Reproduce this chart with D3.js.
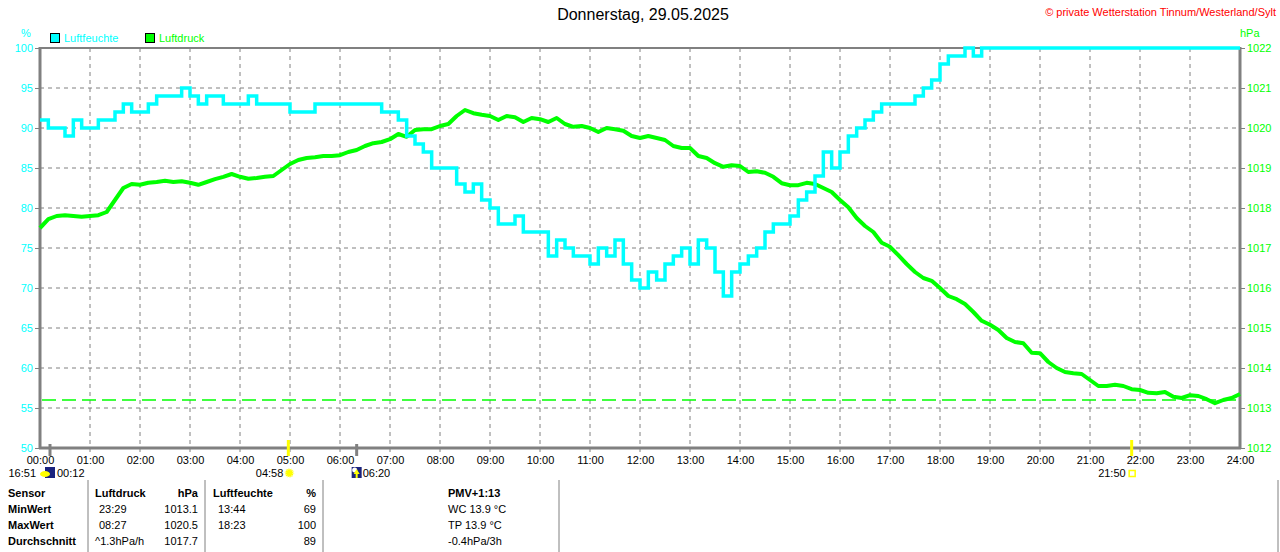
<!DOCTYPE html>
<html>
<head>
<meta charset="utf-8">
<script src="https://cdn.jsdelivr.net/npm/d3@7"></script>
<style>
  body { margin: 0; background: #fff; }
  svg { display: block; font-family: "Liberation Sans", Arial, sans-serif; }
</style>
</head>
<body>
<div id="chart"></div>
<script>
// 10-minute samples from 00:00 to 24:00
const stepMinutes = 10;

const humidity = [
  91, 90, 90, 89, 91, 90, 90, 91, 91, 92, 93, 92,
  92, 93, 94, 94, 94, 95, 94, 93, 94, 94, 93, 93,
  93, 94, 93, 93, 93, 93, 92, 92, 92, 93, 93, 93,
  93, 93, 93, 93, 93, 92, 92, 91, 89, 88, 87, 85,
  85, 85, 83, 82, 83, 81, 80, 78, 78, 79, 77, 77,
  77, 74, 76, 75, 74, 74, 73, 75, 74, 76, 73, 71,
  70, 72, 71, 73, 74, 75, 73, 76, 75, 72, 69, 72,
  73, 74, 75, 77, 78, 78, 79, 81, 82, 84, 87, 85,
  87, 89, 90, 91, 92, 93, 93, 93, 93, 94, 95, 96,
  98, 99, 99, 100, 99, 100, 100, 100, 100, 100, 100, 100,
  100, 100, 100, 100, 100, 100, 100, 100, 100, 100, 100, 100,
  100, 100, 100, 100, 100, 100, 100, 100, 100, 100, 100, 100,
  100
];

const pressure = [
  1017.5, 1017.72, 1017.8, 1017.82, 1017.8, 1017.78, 1017.8, 1017.82, 1017.9, 1018.2, 1018.5, 1018.6,
  1018.58, 1018.63, 1018.65, 1018.68, 1018.65, 1018.67, 1018.63, 1018.58, 1018.65, 1018.72, 1018.78, 1018.85,
  1018.78, 1018.73, 1018.75, 1018.78, 1018.8, 1018.95, 1019.1, 1019.2, 1019.25, 1019.27, 1019.3, 1019.3,
  1019.32, 1019.4, 1019.45, 1019.55, 1019.62, 1019.65, 1019.72, 1019.85, 1019.78, 1019.95, 1019.97, 1019.97,
  1020.05, 1020.1, 1020.3, 1020.45, 1020.37, 1020.33, 1020.3, 1020.2, 1020.3, 1020.27, 1020.15, 1020.25,
  1020.22, 1020.15, 1020.25, 1020.1, 1020.03, 1020.05, 1020.0, 1019.9, 1020.0, 1019.97, 1019.93, 1019.8,
  1019.75, 1019.8, 1019.75, 1019.7, 1019.55, 1019.5, 1019.5, 1019.3, 1019.25, 1019.12, 1019.03, 1019.07,
  1019.05, 1018.9, 1018.92, 1018.88, 1018.78, 1018.62, 1018.57, 1018.57, 1018.63, 1018.6, 1018.5, 1018.4,
  1018.2, 1018.02, 1017.75, 1017.55, 1017.4, 1017.13, 1017.03, 1016.82, 1016.6, 1016.4, 1016.25, 1016.18,
  1016.0, 1015.8, 1015.72, 1015.6, 1015.4, 1015.18, 1015.08, 1014.95, 1014.75, 1014.65, 1014.62, 1014.38,
  1014.37, 1014.15, 1014.0, 1013.9, 1013.87, 1013.85, 1013.7, 1013.55, 1013.55, 1013.58, 1013.55, 1013.47,
  1013.45, 1013.38, 1013.37, 1013.4, 1013.28, 1013.25, 1013.32, 1013.3, 1013.22, 1013.12, 1013.2, 1013.25,
  1013.35
];

const pressureRefLine = 1013.2;

const humTicks = [50, 55, 60, 65, 70, 75, 80, 85, 90, 95, 100];
const presTicks = [1012, 1013, 1014, 1015, 1016, 1017, 1018, 1019, 1020, 1021, 1022];
const hourTicks = d3.range(0, 25);

// sun / moon events
const events = [
  { t: 0.2, label: '00:12', pre: '16:51', kind: 'moon' },
  { t: 4 + 58 / 60, label: '04:58', kind: 'sunrise' },
  { t: 6 + 20 / 60, label: '06:20', kind: 'moonrise' },
  { t: 21 + 50 / 60, label: '21:50', kind: 'sunset' }
];

const tableHead = ['Sensor', 'Luftdruck', 'hPa', 'Luftfeuchte', '%', 'PMV+1:13'];
const tableRows = [
  ['MinWert', '23:29', '1013.1', '13:44', '69', 'WC 13.9 °C'],
  ['MaxWert', '08:27', '1020.5', '18:23', '100', 'TP 13.9 °C'],
  ['Durchschnitt', '^1.3hPa/h', '1017.7', '', '89', '-0.4hPa/3h']
];

const width = 1280;
const height = 552;
const margin = { top: 48, right: 40, bottom: 104, left: 40 };
const grey = '#808080';
const cyan = '#00ffff';
const green = '#00ff00';
const font = '"Liberation Sans", Arial, sans-serif';

const svg = d3.select('#chart')
  .append('svg')
  .attr('width', width)
  .attr('height', height);

const x = d3.scaleLinear()
  .domain([0, 24])
  .range([margin.left, width - margin.right]);

const yH = d3.scaleLinear()
  .domain([50, 100])
  .range([height - margin.bottom, margin.top]);

const yP = d3.scaleLinear()
  .domain([1012, 1022])
  .range([height - margin.bottom, margin.top]);

const tOf = i => i * stepMinutes / 60;

// grid
svg.append('g')
  .selectAll('line')
  .data(hourTicks.slice(1, -1))
  .join('line')
  .attr('x1', d => x(d)).attr('x2', d => x(d))
  .attr('y1', yH(100)).attr('y2', yH(50) + 4)
  .attr('stroke', grey)
  .attr('stroke-dasharray', '4,4');

svg.append('g')
  .selectAll('line')
  .data(humTicks.slice(1, -1))
  .join('line')
  .attr('x1', x(0)).attr('x2', x(24))
  .attr('y1', d => yH(d)).attr('y2', d => yH(d))
  .attr('stroke', grey)
  .attr('stroke-dasharray', '4,4');

// frame
svg.append('line')
  .attr('x1', x(0)).attr('x2', x(24))
  .attr('y1', yH(100)).attr('y2', yH(100))
  .attr('stroke', grey).attr('stroke-width', 2);
svg.append('line')
  .attr('x1', x(0) - 1).attr('x2', x(24) + 1)
  .attr('y1', yH(50)).attr('y2', yH(50))
  .attr('stroke', grey).attr('stroke-width', 3);
svg.append('line')
  .attr('x1', x(0)).attr('x2', x(0))
  .attr('y1', yH(100) - 1).attr('y2', yH(50) + 1)
  .attr('stroke', grey).attr('stroke-width', 3);
svg.append('line')
  .attr('x1', x(24)).attr('x2', x(24))
  .attr('y1', yH(100) - 1).attr('y2', yH(50) + 1)
  .attr('stroke', grey).attr('stroke-width', 3);

// axes
const leftAxis = svg.append('g')
  .attr('transform', `translate(${x(0) - 1}, 0)`)
  .call(d3.axisLeft(yH).tickValues(humTicks).tickSize(4).tickPadding(2));
leftAxis.select('.domain').remove();
leftAxis.selectAll('line').attr('stroke', grey);
leftAxis.selectAll('text').attr('fill', cyan).attr('font-size', '11px').attr('font-family', font);

const rightAxis = svg.append('g')
  .attr('transform', `translate(${x(24) + 1}, 0)`)
  .call(d3.axisRight(yP).tickValues(presTicks).tickSize(4).tickPadding(2)
    .tickFormat(d => String(d)));
rightAxis.select('.domain').remove();
rightAxis.selectAll('line').attr('stroke', grey);
rightAxis.selectAll('text').attr('fill', green).attr('font-size', '11px').attr('font-family', font);

const bottomAxis = svg.append('g')
  .attr('transform', `translate(0, ${yH(50) + 1})`)
  .call(d3.axisBottom(x).tickValues(hourTicks).tickSize(0).tickPadding(7)
    .tickFormat(d => String(d).padStart(2, '0') + ':00'));
bottomAxis.select('.domain').remove();
bottomAxis.selectAll('text').attr('fill', '#000').attr('font-size', '11px').attr('font-family', font);

// reference line
svg.append('line')
  .attr('x1', x(0) + 2).attr('x2', x(24) - 2)
  .attr('y1', yP(pressureRefLine)).attr('y2', yP(pressureRefLine))
  .attr('stroke', green)
  .attr('stroke-width', 1.5)
  .attr('stroke-dasharray', '14,6');

// series
const presLine = d3.line()
  .x((d, i) => x(tOf(i)))
  .y(d => yP(d));

const humLine = d3.line()
  .x((d, i) => x(tOf(i)))
  .y(d => yH(d))
  .curve(d3.curveStepAfter);

svg.append('path')
  .datum(pressure)
  .attr('fill', 'none')
  .attr('stroke', green)
  .attr('stroke-width', 4)
  .attr('stroke-linejoin', 'round')
  .attr('d', presLine);

svg.append('path')
  .datum(humidity)
  .attr('fill', 'none')
  .attr('stroke', cyan)
  .attr('stroke-width', 3.5)
  .attr('d', humLine);

// titles and legend
svg.append('text')
  .attr('x', 643).attr('y', 20)
  .attr('text-anchor', 'middle')
  .attr('font-size', '16px')
  .text('Donnerstag, 29.05.2025');

svg.append('text')
  .attr('x', 1276).attr('y', 16)
  .attr('text-anchor', 'end')
  .attr('font-size', '11px')
  .attr('fill', '#ff0000')
  .text('© private Wetterstation Tinnum/Westerland/Sylt');

svg.append('text')
  .attr('x', 26).attr('y', 37)
  .attr('text-anchor', 'middle')
  .attr('font-size', '11px')
  .attr('fill', cyan)
  .text('%');

svg.append('text')
  .attr('x', 1240).attr('y', 37)
  .attr('font-size', '11px')
  .attr('fill', green)
  .text('hPa');

const legend = [
  { label: 'Luftfeuchte', color: cyan, x: 50 },
  { label: 'Luftdruck', color: green, x: 145 }
];
const lg = svg.append('g').selectAll('g').data(legend).join('g');
lg.append('rect')
  .attr('x', d => d.x + 0.5).attr('y', 33.5)
  .attr('width', 9).attr('height', 9)
  .attr('fill', d => d.color)
  .attr('stroke', '#000');
lg.append('text')
  .attr('x', d => d.x + 14).attr('y', 42)
  .attr('font-size', '11px')
  .attr('fill', d => d.color)
  .text(d => d.label);

// events below the time axis
const ev = svg.append('g');
events.forEach(e => {
  const ex = x(e.t);
  const isSun = e.kind === 'sunrise' || e.kind === 'sunset';
  ev.append('line')
    .attr('x1', ex).attr('x2', ex)
    .attr('y1', isSun ? yH(50) - 8 : yH(50) - 4)
    .attr('y2', yH(50) + 8)
    .attr('stroke', isSun ? '#ffff00' : grey)
    .attr('stroke-width', 3);
  if (e.kind === 'moon') {
    ev.append('text').attr('x', ex - 14).attr('y', 477).attr('text-anchor', 'end')
      .attr('font-size', '11px').text(e.pre);
    ev.append('rect').attr('x', ex - 5).attr('y', 467).attr('width', 10).attr('height', 11)
      .attr('fill', '#1a237e');
    ev.append('ellipse').attr('cx', ex - 5).attr('cy', 474).attr('rx', 5).attr('ry', 3)
      .attr('fill', '#ffff00');
    ev.append('text').attr('x', ex + 7).attr('y', 477)
      .attr('font-size', '11px').text(e.label);
  } else if (e.kind === 'moonrise') {
    ev.append('rect').attr('x', ex - 5).attr('y', 467).attr('width', 10).attr('height', 11)
      .attr('fill', '#1a237e');
    ev.append('circle').attr('cx', ex - 2).attr('cy', 470).attr('r', 2.5).attr('fill', '#fff');
    ev.append('path').attr('d', `M${ex},469 l-3,5 h2 v4 h2 v-4 h2 z`).attr('fill', '#ffff00');
    ev.append('text').attr('x', ex + 6).attr('y', 477)
      .attr('font-size', '11px').text(e.label);
  } else if (e.kind === 'sunrise') {
    ev.append('text').attr('x', ex - 5).attr('y', 477).attr('text-anchor', 'end')
      .attr('font-size', '11px').text(e.label);
    ev.append('circle').attr('cx', ex + 1).attr('cy', 473).attr('r', 4)
      .attr('fill', '#ffff00').attr('stroke', '#ffff99').attr('stroke-width', 2)
      .attr('stroke-dasharray', '1,1.5');
  } else {
    ev.append('text').attr('x', ex - 6).attr('y', 477).attr('text-anchor', 'end')
      .attr('font-size', '11px').text(e.label);
    ev.append('rect').attr('x', ex - 2.5).attr('y', 470.5).attr('width', 6).attr('height', 6)
      .attr('fill', 'none').attr('stroke', '#ffff00').attr('stroke-width', 1.5);
  }
});

// table
const table = svg.append('g').attr('font-size', '11px');
[88, 205, 323, 559, 1278].forEach(lx => {
  table.append('line')
    .attr('x1', lx).attr('x2', lx)
    .attr('y1', 480).attr('y2', height)
    .attr('stroke', grey);
});

const cols = [
  { x: 8, anchor: 'start' },
  { x: 99, anchor: 'start' },
  { x: 198, anchor: 'end' },
  { x: 218, anchor: 'start' },
  { x: 316, anchor: 'end' },
  { x: 448, anchor: 'start' }
];
const headX = [8, 95, 198, 213, 316, 448];
const rowY = [497, 513, 529, 545];

tableHead.forEach((h, i) => {
  table.append('text')
    .attr('x', headX[i]).attr('y', rowY[0])
    .attr('text-anchor', cols[i].anchor)
    .attr('font-weight', 'bold')
    .text(h);
});

tableRows.forEach((row, r) => {
  row.forEach((v, i) => {
    table.append('text')
      .attr('x', (i === 1 && v.startsWith('^')) ? 95 : cols[i].x)
      .attr('y', rowY[r + 1])
      .attr('text-anchor', cols[i].anchor)
      .attr('font-weight', i === 0 ? 'bold' : 'normal')
      .text(v);
  });
});
</script>
</body>
</html>
